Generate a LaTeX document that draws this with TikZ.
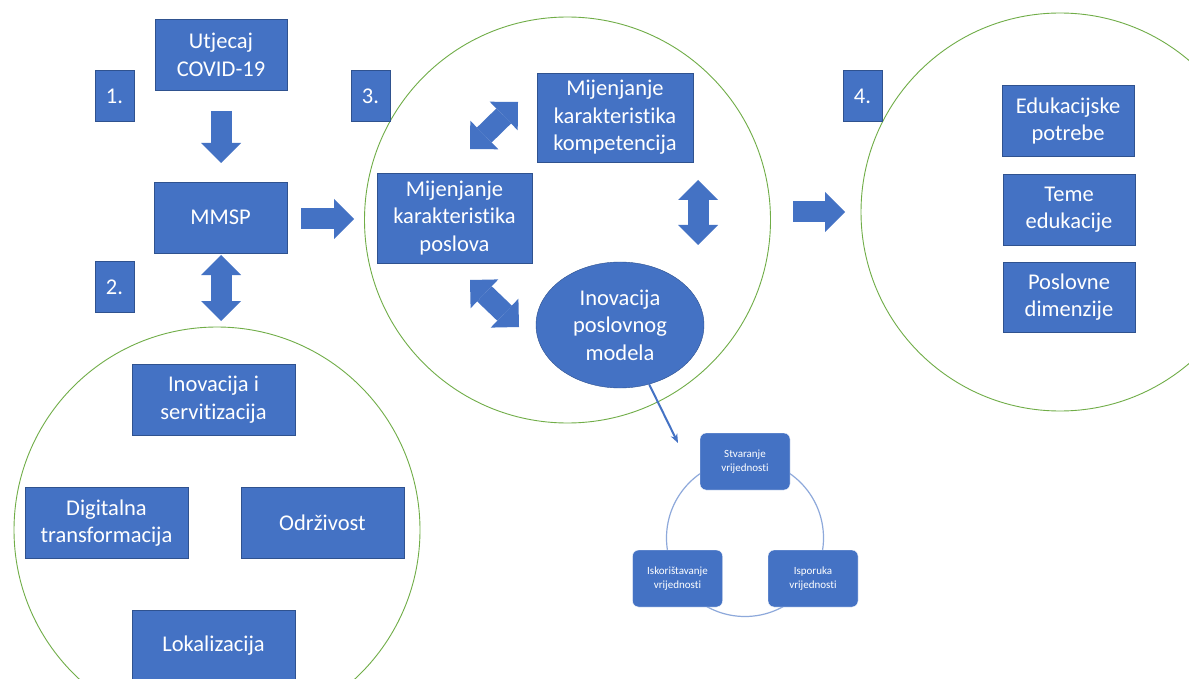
\documentclass[tikz,border=0pt]{standalone}
\usepackage{fontspec}
\setmainfont{Carlito}[Ligatures=NoCommon]
\usetikzlibrary{arrows.meta,shapes.geometric}
\definecolor{boxblue}{HTML}{4472C4}
\definecolor{boxline}{HTML}{2F528F}
\definecolor{ringgreen}{HTML}{70AD47}
\definecolor{cycleline}{HTML}{8EA9DB}
\begin{document}
\begin{tikzpicture}[x=1pt,y=-1pt,
    blockbox/.style={draw=boxline,fill=boxblue,text=white,align=center,inner sep=0pt,
        font=\fontsize{22.5}{27.5}\selectfont},
    numbox/.style={blockbox,minimum width=39pt,minimum height=51pt},
    cyclebox/.style={draw=white,fill=boxblue,text=white,align=center,inner sep=0pt,
        rounded corners=6pt,minimum width=90pt,minimum height=57pt,
        font=\fontsize{11}{14}\selectfont},
    ring/.style={draw=ringgreen,line width=0.9pt},
    bigarrow/.style={boxblue,line width=21pt,-{Triangle[width=40pt,length=20pt,line width=0pt]}},
    bigdouble/.style={boxblue,line width=21pt,
        {Triangle[width=40pt,length=20pt,line width=0pt]}-{Triangle[width=40pt,length=20pt,line width=0pt]}},
    thinarrow/.style={draw=boxblue,line width=2pt,-{Stealth[length=9pt,width=7pt]}}]
    \clip (0,0) rectangle (1189,679);
    \fill[white] (0,0) rectangle (1189,679);

    \draw[ring] (217,530) circle[radius=203pt];
    \draw[ring] (567.5,220) circle[radius=203pt];
    \draw[ring] (1060,212) circle[radius=199pt];
    \draw[draw=cycleline,line width=1.2pt] (745,538) circle[radius=78.5pt];

    \node[numbox] (n1) at (114.5,96) {1.};
    \node[numbox] (n2) at (114.5,287) {2.};
    \node[numbox] (n3) at (370.5,96) {3.};
    \node[numbox] (n4) at (862.5,96) {4.};

    \node[blockbox,minimum width=132pt,minimum height=71pt] (covid) at (221,55) {Utjecaj\\COVID-19};
    \node[blockbox,minimum width=133pt,minimum height=71pt] (mmsp) at (220.5,217.5) {MMSP};
    \node[blockbox,minimum width=163pt,minimum height=71pt] (inoser) at (213.5,399.5) {Inovacija i\\servitizacija};
    \node[blockbox,minimum width=163pt,minimum height=71pt] (digital) at (106.5,523) {Digitalna\\transformacija};
    \node[blockbox,minimum width=163pt,minimum height=71pt] (odrz) at (322.5,523) {Održivost};
    \node[blockbox,minimum width=163pt,minimum height=71pt] (lokal) at (213.5,646) {Lokalizacija};

    \node[blockbox,minimum width=156pt,minimum height=89pt] (komp) at (615,117.5) {Mijenjanje\\karakteristika\\kompetencija};
    \node[blockbox,minimum width=155pt,minimum height=90pt] (posl) at (454.5,218) {Mijenjanje\\karakteristika\\poslova};
    \node[blockbox,ellipse,minimum width=168pt,minimum height=126pt] (model) at (620,325) {Inovacija\\poslovnog\\modela};

    \node[blockbox,minimum width=132pt,minimum height=71pt] (edu) at (1068,121) {Edukacijske\\potrebe};
    \node[blockbox,minimum width=132pt,minimum height=71pt] (teme) at (1069,209.5) {Teme\\edukacije};
    \node[blockbox,minimum width=132pt,minimum height=70pt] (dim) at (1069,297) {Poslovne\\dimenzije};

    \node[cyclebox] (stvar) at (745,461.5) {Stvaranje\\vrijednosti};
    \node[cyclebox] (iskor) at (677.5,578.5) {Iskorištavanje\\vrijednosti};
    \node[cyclebox] (ispor) at (813,578.5) {Isporuka\\vrijednosti};

    \coordinate (a1s) at (221,111);   \coordinate (a1e) at (221,163);
    \coordinate (a2s) at (221,255);   \coordinate (a2e) at (221,321);
    \coordinate (a3s) at (301,219);   \coordinate (a3e) at (354,219);
    \coordinate (a4s) at (470,149);   \coordinate (a4e) at (518,102);
    \coordinate (a5s) at (470,280);   \coordinate (a5e) at (519,327);
    \coordinate (a6s) at (698,180);   \coordinate (a6e) at (698,245);
    \coordinate (a7s) at (793,212);   \coordinate (a7e) at (845,212);
    \coordinate (cyctip) at (678,443);

    \draw[bigarrow] (a1s) -- (a1e);
    \draw[bigdouble] (a2s) -- (a2e);
    \draw[bigarrow] (a3s) -- (a3e);
    \draw[bigdouble] (a4s) -- (a4e);
    \draw[bigdouble] (a5s) -- (a5e);
    \draw[bigdouble] (a6s) -- (a6e);
    \draw[bigarrow] (a7s) -- (a7e);
    \draw[thinarrow] (model) -- (cyctip);
\end{tikzpicture}
\end{document}
